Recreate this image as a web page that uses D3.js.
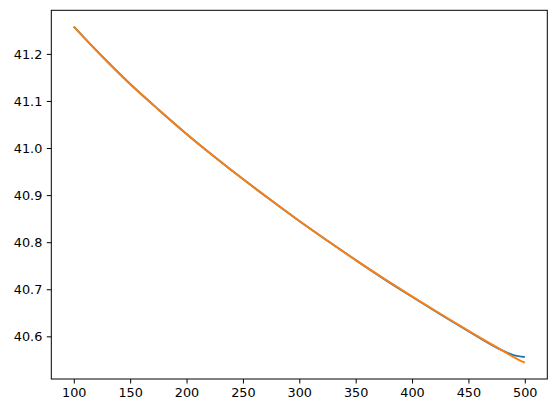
<!DOCTYPE html>
<html>
<head>
<meta charset="utf-8">
<script src="https://cdn.jsdelivr.net/npm/d3@7"></script>
<style>
  html, body { margin: 0; padding: 0; background: #fff; }
  svg { display: block; }
  .tick text { font-family: "DejaVu Sans", sans-serif; font-size: 12.8px; fill: #000; }
</style>
</head>
<body>
<svg id="chart" width="556" height="413"></svg>
<script>
// Data
const xBlue = [100, 125, 150, 175, 200, 225, 250, 275, 300, 325, 350, 375, 400, 425, 450, 475, 490, 500];
const yBlue = [41.258, 41.195, 41.136, 41.082, 41.030, 40.981, 40.934, 40.889, 40.845, 40.803, 40.762, 40.722, 40.684, 40.647, 40.611, 40.576, 40.560, 40.556];
const xOrange = [100, 125, 150, 175, 200, 225, 250, 275, 300, 325, 350, 375, 400, 425, 450, 475, 490, 500];
const yOrange = [41.258, 41.195, 41.136, 41.082, 41.030, 40.981, 40.934, 40.889, 40.845, 40.803, 40.762, 40.723, 40.685, 40.648, 40.612, 40.577, 40.556, 40.544];
const xTicks = [100, 150, 200, 250, 300, 350, 400, 450, 500];
const yTicks = [40.6, 40.7, 40.8, 40.9, 41.0, 41.1, 41.2];

const svg = d3.select("#chart");
const mLeft = 51.3, mRight = 547.3, mTop = 10.3, mBottom = 379;

const x = d3.scaleLinear().domain([80.05, 519.95]).range([mLeft, mRight]);
const y = d3.scaleLinear().domain([40.5094, 41.2926]).range([mBottom, mTop]);

const xAxis = d3.axisBottom(x).tickValues(xTicks).tickFormat(d3.format("d")).tickSize(4.5).tickPadding(4.5).tickSizeOuter(0);
const yAxis = d3.axisLeft(y).tickValues(yTicks).tickFormat(d3.format(".1f")).tickSize(4.5).tickPadding(4.5).tickSizeOuter(0);

const gx = svg.append("g").attr("transform", `translate(0,${mBottom})`).call(xAxis);
const gy = svg.append("g").attr("transform", `translate(${mLeft},0)`).call(yAxis);
[gx, gy].forEach(g => {
  g.select(".domain").remove();
  g.selectAll(".tick line").attr("stroke", "#000").attr("stroke-width", 1);
});
gy.selectAll(".tick text").attr("dy", "0.36em");

const line = d3.line().x(d => x(d[0])).y(d => y(d[1])).curve(d3.curveMonotoneX);
const plot = svg.append("g");
plot.append("path")
  .datum(xBlue.map((v, i) => [v, yBlue[i]]))
  .attr("d", line).attr("fill", "none").attr("stroke", "#1f77b4").attr("stroke-width", 1.9);
plot.append("path")
  .datum(xOrange.map((v, i) => [v, yOrange[i]]))
  .attr("d", line).attr("fill", "none").attr("stroke", "#ff7f0e").attr("stroke-width", 1.9);

svg.append("rect")
  .attr("x", mLeft).attr("y", mTop)
  .attr("width", mRight - mLeft).attr("height", mBottom - mTop)
  .attr("fill", "none").attr("stroke", "#000").attr("stroke-width", 1);
</script>
</body>
</html>
